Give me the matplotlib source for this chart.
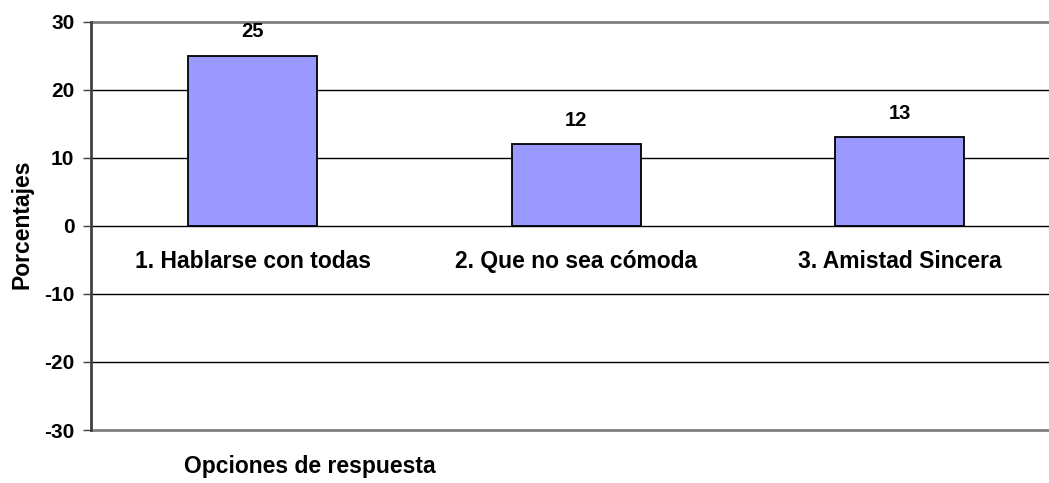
import matplotlib
matplotlib.use('Agg')
import matplotlib.pyplot as plt

plt.rcParams['font.family'] = ['Liberation Sans', 'DejaVu Sans']
plt.rcParams['font.weight'] = 'bold'

# Data
categorias = ['1. Hablarse con todas', '2. Que no sea cómoda', '3. Amistad Sincera']
porcentajes = [25, 12, 13]
y_ticks = [-30, -20, -10, 0, 10, 20, 30]

fig = plt.figure(figsize=(10.49, 4.83), dpi=100)
ax = fig.add_axes([91 / 1049, 1 - 430 / 483, 1 - 91 / 1049, (430 - 21.5) / 483])

x = list(range(len(categorias)))
bars = ax.bar(x, porcentajes, width=0.4, color='#9999FF', edgecolor='black',
              linewidth=1.3, zorder=3)

# Value labels above bars
for xi, v in zip(x, porcentajes):
    ax.annotate(str(v), (xi, v), xytext=(0, 17), textcoords='offset points',
                ha='center', va='center', fontsize=14.5, fontweight='bold')

# Category labels just under the zero line
for xi, c in zip(x, categorias):
    ax.annotate(c, (xi, 0), xytext=(0, -26), textcoords='offset points',
                ha='center', va='center', fontsize=16.5, fontweight='bold')

ax.set_xlim(-0.5, 2 + (1049 - 900) / 323)
ax.set_ylim(-30, 30)
ax.set_yticks(y_ticks)
ax.set_yticklabels([str(t) for t in y_ticks], fontsize=15, fontweight='bold')
ax.set_xticks([])

# Gridlines
for t in y_ticks:
    if t in (-30, 30):
        ax.axhline(t, color='#808080', linewidth=2, zorder=1, clip_on=False)
    else:
        ax.axhline(t, color='black', linewidth=1, zorder=1)

for s in ['top', 'right', 'bottom']:
    ax.spines[s].set_visible(False)
ax.spines['left'].set_color('#404040')
ax.spines['left'].set_linewidth(2)
ax.tick_params(axis='y', length=6, width=1, color='#404040', pad=6)

fig.text(22 / 1049, 1 - 224 / 483, 'Porcentajes', rotation=90, ha='center',
         va='center', fontsize=16.5, fontweight='bold')
fig.text(310 / 1049, 1 - 467 / 483, 'Opciones de respuesta', ha='center',
         va='center', fontsize=16.5, fontweight='bold')

fig.savefig('out.png', dpi=100)
